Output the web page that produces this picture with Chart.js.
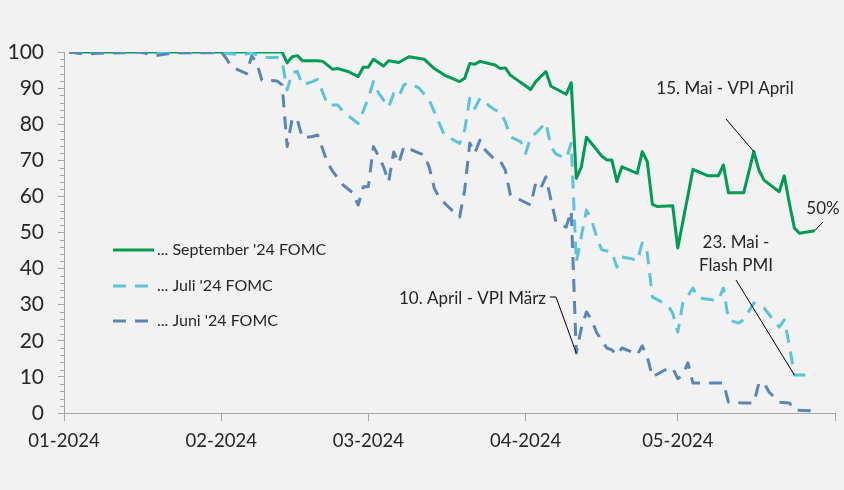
<!DOCTYPE html>
<html lang="de">
<head>
<meta charset="utf-8">
<title>FOMC Wahrscheinlichkeiten</title>
<script src="https://cdn.jsdelivr.net/npm/chart.js@4.4.1/dist/chart.umd.min.js"></script>
<style>
  html, body { margin: 0; padding: 0; background: #f2f2f2; }
  #wrap { width: 844px; height: 490px; }
</style>
</head>
<body>
<div id="wrap"><canvas id="chart" width="844" height="490"></canvas></div>
<script>
// Achsen
const monatsLabels = ['01-2024', '02-2024', '03-2024', '04-2024', '05-2024', ''];
const monatsStarts = ['2024-01-01', '2024-02-01', '2024-03-01', '2024-04-01', '2024-05-01', '2024-06-01'];

// ... September '24 FOMC
const septDaten = ['2024-01-02','2024-02-13','2024-02-14','2024-02-15','2024-02-16','2024-02-17','2024-02-20','2024-02-21','2024-02-23','2024-02-24',
  '2024-02-26','2024-02-28','2024-02-29','2024-03-01','2024-03-02','2024-03-04','2024-03-05','2024-03-07','2024-03-09','2024-03-12',
  '2024-03-14','2024-03-16','2024-03-19','2024-03-20','2024-03-21','2024-03-22','2024-03-23','2024-03-26','2024-03-27','2024-03-28',
  '2024-03-29','2024-04-02','2024-04-03','2024-04-05','2024-04-06','2024-04-09','2024-04-10','2024-04-11','2024-04-12','2024-04-13',
  '2024-04-16','2024-04-17','2024-04-18','2024-04-19','2024-04-20','2024-04-23','2024-04-24','2024-04-25','2024-04-26','2024-04-27',
  '2024-04-30','2024-05-01','2024-05-04','2024-05-07','2024-05-09','2024-05-10','2024-05-11','2024-05-14','2024-05-16','2024-05-17',
  '2024-05-18','2024-05-21','2024-05-22','2024-05-23','2024-05-24','2024-05-25','2024-05-28'];
const septWerte = [100, 100, 97, 98.7, 99, 97.6, 97.6, 97.4, 95.2, 95.4,
  94.6, 93.2, 95.8, 95.8, 98, 96.1, 97.6, 97.1, 98.7, 98,
  95.4, 93.6, 91.8, 92.7, 96.8, 96.6, 97.4, 96.4, 95.4, 95.6,
  93.6, 89.6, 91.8, 94.6, 90.5, 88.3, 91.5, 65, 68.2, 76.4,
  71.2, 70.1, 70.1, 64.1, 68.2, 66.4, 72.4, 69.6, 57.8, 57.2,
  57.4, 45.7, 67.5, 65.7, 65.7, 68.7, 61, 61, 72.4, 67.3,
  64.5, 61.3, 65.7, 58.1, 51.2, 49.8, 50.5];

// ... Juli '24 FOMC
const juliDaten = ['2024-01-02','2024-01-10','2024-01-18','2024-01-26','2024-02-01','2024-02-05','2024-02-07','2024-02-09','2024-02-12','2024-02-13',
  '2024-02-14','2024-02-15','2024-02-16','2024-02-17','2024-02-19','2024-02-20','2024-02-22','2024-02-24','2024-02-25','2024-02-28',
  '2024-03-01','2024-03-02','2024-03-03','2024-03-05','2024-03-06','2024-03-07','2024-03-08','2024-03-09','2024-03-11','2024-03-13',
  '2024-03-15','2024-03-16','2024-03-19','2024-03-20','2024-03-21','2024-03-22','2024-03-23','2024-03-25','2024-03-26','2024-03-27',
  '2024-03-28','2024-03-29','2024-03-31','2024-04-01','2024-04-02','2024-04-03','2024-04-05','2024-04-06','2024-04-07','2024-04-09',
  '2024-04-10','2024-04-11','2024-04-13','2024-04-14','2024-04-15','2024-04-16','2024-04-18','2024-04-19','2024-04-20','2024-04-22',
  '2024-04-23','2024-04-24','2024-04-25','2024-04-26','2024-04-29','2024-04-30','2024-05-01','2024-05-02','2024-05-04','2024-05-05',
  '2024-05-08','2024-05-09','2024-05-10','2024-05-11','2024-05-13','2024-05-14','2024-05-16','2024-05-17','2024-05-18','2024-05-21',
  '2024-05-22','2024-05-23','2024-05-24','2024-05-28'];
const juliWerte = [100, 99.6, 100, 99.7, 99.8, 99.2, 99.8, 98.5, 98.5, 97.3,
  89.5, 94.3, 94.6, 90.9, 91.8, 92.4, 85.3, 85.3, 83.5, 80.2,
  87.2, 91.8, 88.7, 84.7, 88.5, 87.6, 90.9, 91.5, 90, 86.7,
  80.2, 77, 74.7, 78.4, 87.2, 84.4, 87.2, 84.9, 83.9, 83.5,
  80.7, 76.5, 75.2, 71.9, 76.5, 77.5, 80.4, 73.8, 71.7, 70.5,
  74.7, 41.8, 56.2, 53.5, 48.8, 45.2, 44.6, 40.4, 43.2, 42.7,
  42.1, 47.1, 44.3, 32.1, 29.9, 27.7, 22.4, 30.5, 34.6, 31.9,
  31.3, 31.3, 34.6, 25.8, 24.9, 25.8, 30.5, 29.6, 29.1, 23.8,
  25.8, 18.8, 10.5, 10.5];

// ... Juni '24 FOMC
const juniDaten = ['2024-01-02','2024-01-05','2024-01-09','2024-01-16','2024-01-19','2024-01-23','2024-02-01','2024-02-02','2024-02-03','2024-02-06',
  '2024-02-07','2024-02-08','2024-02-09','2024-02-12','2024-02-13','2024-02-14','2024-02-15','2024-02-16','2024-02-17','2024-02-19',
  '2024-02-20','2024-02-22','2024-02-23','2024-02-25','2024-02-27','2024-02-28','2024-02-29','2024-03-01','2024-03-02','2024-03-03',
  '2024-03-04','2024-03-05','2024-03-06','2024-03-07','2024-03-08','2024-03-11','2024-03-12','2024-03-13','2024-03-14','2024-03-15',
  '2024-03-17','2024-03-19','2024-03-20','2024-03-21','2024-03-22','2024-03-23','2024-03-24','2024-03-26','2024-03-27','2024-03-28',
  '2024-03-29','2024-03-31','2024-04-02','2024-04-03','2024-04-04','2024-04-05','2024-04-06','2024-04-07','2024-04-09','2024-04-10',
  '2024-04-11','2024-04-12','2024-04-13','2024-04-14','2024-04-15','2024-04-17','2024-04-18','2024-04-19','2024-04-20','2024-04-22',
  '2024-04-23','2024-04-24','2024-04-25','2024-04-26','2024-04-29','2024-04-30','2024-05-01','2024-05-02','2024-05-03','2024-05-04',
  '2024-05-09','2024-05-10','2024-05-11','2024-05-14','2024-05-16','2024-05-17','2024-05-18','2024-05-19','2024-05-21','2024-05-23',
  '2024-05-24','2024-05-28'];
const juniWerte = [100, 99.4, 99.8, 100, 99, 99.8, 100, 98.2, 95.9, 94,
  98.9, 97, 92.2, 92, 90.9, 73.8, 81.7, 81.2, 76.2, 76.6,
  77, 69.2, 66.9, 63.2, 60.9, 57.6, 62.7, 62.7, 73.8, 71.2,
  68.2, 64, 72.3, 69.2, 73.8, 72, 71.5, 68.1, 62.3, 59.6,
  56.8, 54.3, 61.8, 74.8, 72, 75.6, 72.9, 70.1, 69.8, 67.3,
  60.4, 59, 57.6, 63.7, 62.3, 65.4, 59, 52.9, 51.5, 56,
  16.6, 23.5, 28, 25.8, 22.3, 18, 17.5, 16.1, 18, 16.9,
  16.1, 18.6, 15.5, 10, 12.3, 12.5, 9.5, 10.5, 13.9, 8.3,
  8.3, 8.3, 3, 2.8, 2.8, 8.3, 8.3, 5.8, 3, 2.8,
  0.8, 0.6];

// Datum -> Tage seit 1. Januar
function tagNr(datum) {
    return (Date.parse(datum) - Date.parse('2024-01-01')) / 86400000;
}

function punkte(daten, werte) {
    return daten.map((d, i) => ({ x: tagNr(d), y: werte[i] }));
}

const textFarbe = '#262626';
const achsenFarbe = '#a6a6a6';
const schrift = 'Lato';

// Beschriftungen mit Führungslinien (Ankerpunkt kommt aus den Daten)
const notizen = [
    { zeilen: ['15. Mai - VPI April'], x: 725, y: 89, align: 'center', linie: [[726, 119]], daten: septDaten, werte: septWerte, datum: '2024-05-16' },
    { zeilen: ['50%'], x: 823, y: 209, align: 'center', linie: [[823, 222]], daten: septDaten, werte: septWerte, datum: '2024-05-28' },
    { zeilen: ['23. Mai -', 'Flash PMI'], x: 736, y: 243, align: 'center', linie: [[736, 280]], daten: juliDaten, werte: juliWerte, datum: '2024-05-24' },
    { zeilen: ['10. April - VPI März'], x: 546, y: 299, align: 'right', linie: [[550, 297], [556, 297]], daten: juniDaten, werte: juniWerte, datum: '2024-04-11' }
];

const extras = {
    id: 'extras',
    afterDraw(chart) {
        const ctx = chart.ctx;
        const xs = chart.scales.x;
        const ys = chart.scales.y;
        ctx.save();

        // Hilfsstriche auf der y-Achse (alle 2 Punkte)
        ctx.strokeStyle = achsenFarbe;
        ctx.lineWidth = 1;
        for (let v = 0; v <= 100; v += 2) {
            if (v % 10 === 0) continue;
            const py = Math.round(ys.getPixelForValue(v)) + 0.5;
            ctx.beginPath();
            ctx.moveTo(xs.left - 4, py);
            ctx.lineTo(xs.left, py);
            ctx.stroke();
        }

        // Legende
        const legY = [250, 286, 321];
        ctx.font = '16px ' + schrift;
        ctx.textBaseline = 'middle';
        ctx.textAlign = 'left';
        chart.data.datasets.forEach((ds, i) => {
            ctx.strokeStyle = ds.borderColor;
            ctx.lineWidth = ds.borderWidth;
            ctx.setLineDash(ds.borderDash || []);
            ctx.beginPath();
            ctx.moveTo(113, legY[i]);
            ctx.lineTo(154, legY[i]);
            ctx.stroke();
            ctx.setLineDash([]);
            ctx.fillStyle = textFarbe;
            ctx.fillText(ds.label, 157, legY[i]);
        });

        // Notizen
        ctx.font = '17px ' + schrift;
        notizen.forEach(n => {
            ctx.fillStyle = textFarbe;
            ctx.textAlign = n.align;
            n.zeilen.forEach((z, j) => ctx.fillText(z, n.x, n.y + j * 23));
            const idx = n.daten.indexOf(n.datum);
            const ax = xs.getPixelForValue(tagNr(n.datum));
            const ay = ys.getPixelForValue(n.werte[idx]);
            ctx.strokeStyle = '#000';
            ctx.lineWidth = 1;
            ctx.beginPath();
            ctx.moveTo(n.linie[0][0], n.linie[0][1]);
            n.linie.slice(1).forEach(p => ctx.lineTo(p[0], p[1]));
            ctx.lineTo(ax, ay);
            ctx.stroke();
        });
        ctx.restore();
    }
};

new Chart(document.getElementById('chart'), {
    type: 'line',
    data: {
        datasets: [
            {
                label: "... September '24 FOMC",
                data: punkte(septDaten, septWerte),
                borderColor: '#009b55',
                borderWidth: 3,
                order: 3
            },
            {
                label: "... Juli '24 FOMC",
                data: punkte(juliDaten, juliWerte),
                borderColor: '#5bc3dc',
                borderWidth: 3,
                borderDash: [13, 9],
                order: 2
            },
            {
                label: "... Juni '24 FOMC",
                data: punkte(juniDaten, juniWerte),
                borderColor: '#5a86b6',
                borderWidth: 3,
                borderDash: [13, 9],
                order: 1
            }
        ]
    },
    options: {
        responsive: false,
        animation: false,
        layout: { padding: { top: 52, right: 9, bottom: 0, left: 0 } },
        elements: {
            point: { radius: 0 },
            line: { tension: 0, borderJoinStyle: 'round', borderCapStyle: 'butt' }
        },
        plugins: {
            legend: { display: false },
            tooltip: { enabled: false }
        },
        scales: {
            x: {
                type: 'linear',
                min: 0,
                max: tagNr(monatsStarts[monatsStarts.length - 1]),
                afterBuildTicks: s => { s.ticks = monatsStarts.map(d => ({ value: tagNr(d) })); },
                afterFit: s => { s.height = 77; },
                ticks: {
                    autoSkip: false,
                    maxRotation: 0,
                    padding: 9,
                    color: textFarbe,
                    font: { family: schrift, size: 18.5 },
                    callback: (v, i) => monatsLabels[i]
                },
                grid: { drawOnChartArea: false, drawTicks: true, tickLength: 8, color: achsenFarbe },
                border: { display: true, color: achsenFarbe }
            },
            y: {
                min: 0,
                max: 100,
                afterFit: s => { s.width = 64; },
                ticks: {
                    stepSize: 10,
                    padding: 14,
                    color: textFarbe,
                    font: { family: schrift, size: 21 }
                },
                grid: { drawOnChartArea: false, drawTicks: true, tickLength: 6, color: achsenFarbe },
                border: { display: true, color: achsenFarbe }
            }
        }
    },
    plugins: [extras]
});
</script>
</body>
</html>
